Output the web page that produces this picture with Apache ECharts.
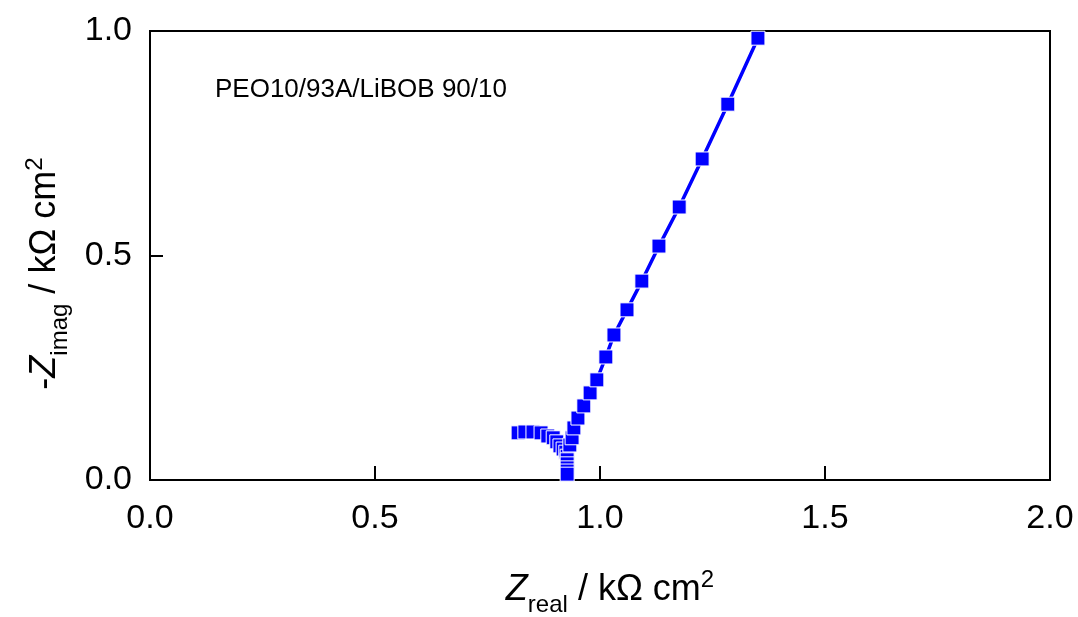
<!DOCTYPE html>
<html>
<head>
<meta charset="utf-8">
<script src="https://cdn.jsdelivr.net/npm/echarts@6/dist/echarts.min.js"></script>
<style>html,body{margin:0;padding:0;background:#fff}#c{width:1078px;height:617px}</style>
</head>
<body>
<div id="c"></div>
<script>
// Z_real (kOhm cm2)
const zReal = [0.818, 0.833, 0.851, 0.869, 0.884, 0.896, 0.904, 0.911, 0.918, 0.924,
  0.927, 0.927, 0.927, 0.927, 0.927, 0.927,
  0.933, 0.938, 0.942, 0.951, 0.964, 0.978, 0.993, 1.013, 1.031, 1.060, 1.093, 1.131, 1.176, 1.227, 1.284, 1.351];
// -Z_imag (kOhm cm2)
const zImag = [0.105, 0.107, 0.107, 0.105, 0.098, 0.094, 0.085, 0.076, 0.069, 0.062,
  0.053, 0.045, 0.036, 0.027, 0.020, 0.013,
  0.078, 0.094, 0.116, 0.138, 0.165, 0.194, 0.223, 0.274, 0.323, 0.379, 0.443, 0.521, 0.608, 0.715, 0.837, 0.984];
const xTicks = [0, 0.5, 1.0, 1.5, 2.0];
const yTicks = [0, 0.5, 1.0];
const sampleLabel = 'PEO10/93A/LiBOB 90/10';

const chart = echarts.init(document.getElementById('c'), null, {renderer: 'canvas'});
const font = '"Liberation Sans", Arial, sans-serif';
const pts = zReal.map((x, i) => [x, zImag[i]]);
const rich = {
  i: {fontFamily: font, fontSize: 36, fontStyle: 'italic', color: '#000', verticalAlign: 'bottom'},
  s: {fontFamily: font, fontSize: 24, color: '#000', verticalAlign: 'bottom', padding: [0,0,-9,0]},
  n: {fontFamily: font, fontSize: 36, color: '#000', verticalAlign: 'bottom'},
  p: {fontFamily: font, fontSize: 24, color: '#000', verticalAlign: 'top', padding: [0,0,16,0]}
};
chart.setOption({
  animation: false,
  backgroundColor: '#fff',
  grid: {left: 150, right: 28, top: 31, bottom: 137, show: true, borderColor: '#000', borderWidth: 2, containLabel: false, outerBoundsMode: 'none'},
  graphic: [{
    type: 'text', left: 215, top: 77,
    style: {text: sampleLabel, font: '26px "Liberation Sans", Arial, sans-serif', fill: '#000'}
  }],
  xAxis: {
    type: 'value', min: 0, max: 2, interval: 0.5,
    axisLine: {lineStyle: {color: '#000', width: 2}},
    axisTick: {inside: true, length: 14, lineStyle: {color: '#000', width: 2}},
    splitLine: {show: false},
    axisLabel: {margin: 22, color: '#000', fontFamily: font, fontSize: 34,
      formatter: v => xTicks.includes(v) ? v.toFixed(1) : ''},
    name: '{i|Z}{s|real}{n| / kΩ cm}{p|2}',
    nameLocation: 'middle', nameGap: 88,
    nameTextStyle: {rich: rich, padding: [0, 0, 0, 20]}
  },
  yAxis: {
    type: 'value', min: 0, max: 1, interval: 0.5,
    axisLine: {lineStyle: {color: '#000', width: 2}},
    axisTick: {inside: true, length: 13, lineStyle: {color: '#000', width: 2}},
    splitLine: {show: false},
    axisLabel: {margin: 18, color: '#000', fontFamily: font, fontSize: 34,
      formatter: v => yTicks.includes(v) ? v.toFixed(1) : ''},
    name: '{n|-}{i|Z}{s|imag}{n| / kΩ cm}{p|2}',
    nameLocation: 'middle', nameGap: 87, nameRotate: 90,
    nameTextStyle: {rich: rich, padding: [0, 36, 0, 0]}
  },
  series: [{
    type: 'line', data: pts,
    symbol: 'rect', symbolSize: 14, showAllSymbol: true,
    lineStyle: {color: '#0000ff', width: 3.5},
    itemStyle: {color: '#0000ff', borderColor: '#ffffff', borderWidth: 1},
    z: 3
  }]
});
</script>
</body>
</html>
